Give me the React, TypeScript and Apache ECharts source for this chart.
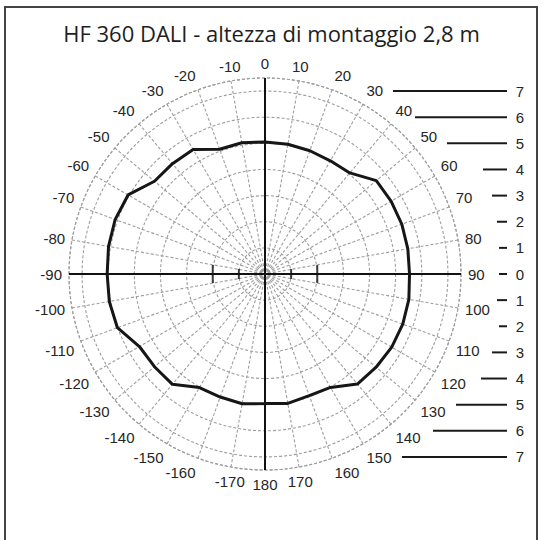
import { useEffect, useRef } from 'react'
import * as echarts from 'echarts'

const TITLE = 'HF 360 DALI - altezza di montaggio 2,8 m'

// angle in degrees, clockwise from the top (0 = down the lamp axis)
const angles = [
  0, 10, 20, 30, 40, 50, 60, 70, 80, 90, 100, 110, 120, 130, 140, 150, 160, 170,
  180, 190, 200, 210, 220, 230, 240, 250, 260, 270, 280, 290, 300, 310, 320, 330, 340, 350
]

// radius of the curve, in ring units
const intensity = [
  5.05, 5.04, 5.02, 5.0, 5.05, 5.56, 5.57, 5.57, 5.55, 5.53, 5.59, 5.61, 5.6, 5.55, 5.5, 5.01, 4.95, 5.03,
  4.96, 5.04, 5.01, 5.02, 5.51, 5.52, 5.55, 6.01, 6.05, 6.04, 6.08, 6.1, 6.05, 5.52, 5.51, 5.5, 5.08, 5.1
]

const RING_MAX = 7.5

// black cross through the centre
const crossAngles = [0, 90]

// small ticks on the horizontal axis: [ring, height]
const axisTicks = [
  [1, 10],
  [2, 18]
]

// scale on the right: label and length of its line
const scaleUpper = [7, 6, 5, 4, 3, 2, 1, 0]
const scaleUpperLen = [114, 92, 60, 24, 15, 10, 8, 8]
const scaleLower = [1, 2, 3, 4, 5, 6, 7]
const scaleLowerLen = [10, 8, 15, 26, 51, 74, 105]

const angleLabel = (v: number) => (v <= 180 ? String(v) : String(v - 360))

export default function App() {
  const ref = useRef<HTMLDivElement | null>(null)

  useEffect(() => {
    if (!ref.current) return
    const chart = echarts.init(ref.current, undefined, { renderer: 'svg' })

    const curve = angles.map((a, i) => [intensity[i], a])
    curve.push([intensity[0], angles[0]])

    const gridLine = { show: true, lineStyle: { color: '#9e9e9e', type: [3, 2], width: 1.1 } }

    chart.setOption({
      animation: false,
      backgroundColor: '#fff',
      title: {
        text: TITLE,
        left: 'center',
        top: 17,
        textStyle: { fontFamily: 'Open Sans', fontWeight: 'normal', fontSize: 22, color: '#1e1e1e' }
      },
      polar: { center: [265, 274], radius: 196 },
      angleAxis: {
        type: 'value',
        min: 0,
        max: 360,
        interval: 10,
        startAngle: 90,
        clockwise: true,
        axisLine: { show: true, lineStyle: { color: '#9e9e9e', type: [3, 2], width: 1.1 } },
        axisTick: { show: false },
        axisLabel: {
          margin: 7,
          formatter: angleLabel,
          fontFamily: 'Liberation Sans',
          fontSize: 15,
          color: '#262626'
        },
        splitLine: gridLine
      },
      radiusAxis: {
        type: 'value',
        min: 0,
        max: RING_MAX,
        interval: 1,
        axisLine: { show: false },
        axisTick: { show: false },
        axisLabel: { show: false },
        splitLine: gridLine
      },
      series: [
        ...crossAngles.map((a) => ({
          type: 'line',
          coordinateSystem: 'polar',
          showSymbol: false,
          silent: true,
          lineStyle: { color: '#111', width: 2 },
          data: [
            [RING_MAX, a],
            [RING_MAX, a + 180]
          ]
        })),
        ...axisTicks.map(([r, h]) => ({
          type: 'scatter',
          coordinateSystem: 'polar',
          symbol: 'rect',
          symbolSize: [2, h],
          itemStyle: { color: '#111' },
          data: [
            [r, 90],
            [r, 270]
          ]
        })),
        {
          type: 'line',
          coordinateSystem: 'polar',
          showSymbol: false,
          smooth: false,
          lineStyle: { color: '#161616', width: 3 },
          data: curve
        }
      ]
    })

    // right-hand scale, placed at the same ring heights as the polar grid
    const right = 507
    const graphic: any[] = [
      {
        type: 'rect',
        shape: { x: 5, y: 7, width: 532, height: 545 },
        style: { fill: 'none', stroke: '#444', lineWidth: 2 },
        silent: true
      }
    ]
    const addRow = (label: number, len: number, angle: number) => {
      const p = chart.convertToPixel({ polarIndex: 0 } as any, [label, angle]) as number[]
      const y = p[1]
      graphic.push({
        type: 'line',
        shape: { x1: right - len, y1: y, x2: right, y2: y },
        style: { stroke: '#1a1a1a', lineWidth: 2 }
      })
      graphic.push({
        type: 'text',
        x: right + 13,
        y,
        style: {
          text: String(label),
          fontFamily: 'Liberation Sans',
          fontSize: 15,
          fill: '#262626',
          align: 'center',
          verticalAlign: 'middle'
        }
      })
    }
    scaleUpper.forEach((n, i) => addRow(n, scaleUpperLen[i], 0))
    scaleLower.forEach((n, i) => addRow(n, scaleLowerLen[i], 180))
    chart.setOption({ graphic })

    return () => chart.dispose()
  }, [])

  return (
    <div
      ref={ref}
      style={{ position: 'fixed', left: 0, top: 0, width: 543, height: 540, background: '#fff' }}
    />
  )
}
